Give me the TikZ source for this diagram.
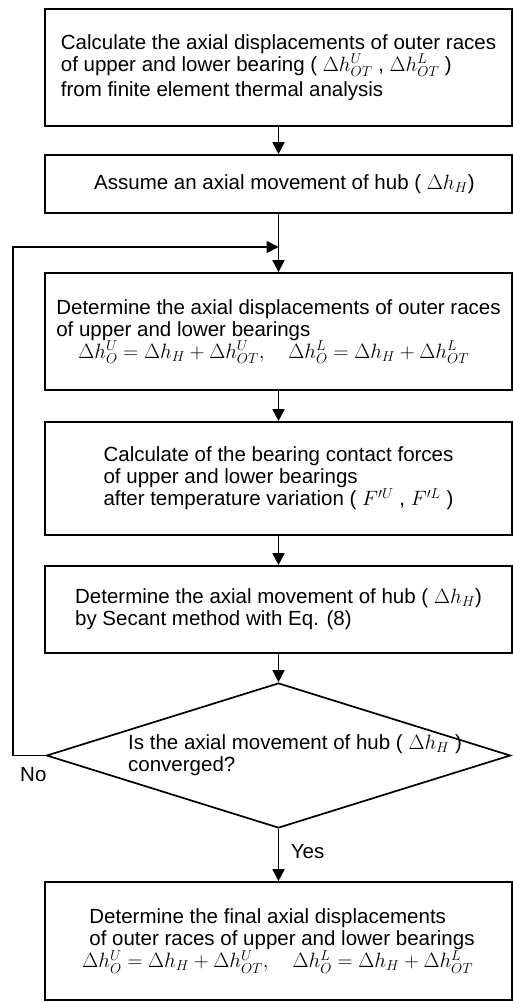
\documentclass[tikz,border=0pt]{standalone}
\usepackage{fontspec}
\setmainfont{Liberation Sans}
\usetikzlibrary{arrows.meta,shapes.geometric}
\tikzset{
  txtfont/.style={font=\fontsize{20.5}{22}\selectfont},
  box/.style={draw, line width=1.7pt, minimum width=467pt, align=left, inner sep=0pt, txtfont},
  cond/.style={draw, line width=1.7pt, shape=diamond, minimum width=464pt, minimum height=145pt, aspect=3.2, inner sep=0pt},
  lbl/.style={inner sep=0pt, align=left, txtfont},
  flow/.style={line width=1.7pt, -{Triangle[length=12pt,width=12pt]}}
}
\begin{document}
\begin{tikzpicture}[x=1pt,y=1pt]
\useasboundingbox (0,0) rectangle (513,-1003);
\node[box, minimum height=117pt] (b1) at (278.5,-67.5)
  {Calculate the axial displacements of outer races\\
   of upper and lower bearing ( $\Delta h^{U}_{OT}$ , $\Delta h^{L}_{OT}$ )\\[3pt]
   from finite element thermal analysis};
\node[box, minimum height=58pt] (b2) at (278.5,-184)
  {\hspace*{12pt}Assume an axial movement of hub ( $\Delta h_{H}$)};
\node[box, minimum height=117pt] (b3) at (278.5,-331.5)
  {Determine the axial displacements of outer races\\
   of upper and lower bearings\\
   \hspace*{22pt}$\Delta h^{U}_{O} = \Delta h_{H} + \Delta h^{U}_{OT},\quad \Delta h^{L}_{O} = \Delta h_{H} + \Delta h^{L}_{OT}$};
\node[box, minimum height=113pt] (b4) at (278.5,-478.5)
  {Calculate of the bearing contact forces\\
   of upper and lower bearings\\
   after temperature variation ( $F^{\prime U}$ , $F^{\prime L}$ )};
\node[box, minimum height=87pt] (b5) at (278.5,-609.5)
  {Determine the axial movement of hub ( $\Delta h_{H}$)\\
   by Secant method with Eq. (8)};
\node[cond] (d) at (278.5,-755.5) {};
\node[lbl, anchor=west] (dq) at (128,-755)
  {Is the axial movement of hub ( $\Delta h_{H}$ )\\ converged?};
\node[box, minimum height=118pt] (b6) at (278.5,-941)
  {\hspace*{7pt}Determine the final axial displacements\\
   \hspace*{7pt}of outer races of upper and lower bearings\\
   $\Delta h^{U}_{O} = \Delta h_{H} + \Delta h^{U}_{OT},\quad \Delta h^{L}_{O} = \Delta h_{H} + \Delta h^{L}_{OT}$};
\coordinate (j) at (278.5,-247);
\draw[flow] (b1.south) -- (b2.north);
\draw[flow] (b2.south) -- (b3.north);
\draw[flow] (b3.south) -- (b4.north);
\draw[flow] (b4.south) -- (b5.north);
\draw[flow] (b5.south) -- (d.north);
\draw[flow] (d.south) -- (b6.north);
\draw[flow] (d.west) -- ++(-33,0) |- (j);
\node[lbl, anchor=base west] (no) at (20,-781) {No};
\node[lbl, anchor=base west] (yes) at (290.7,-858) {Yes};
\end{tikzpicture}
\end{document}
